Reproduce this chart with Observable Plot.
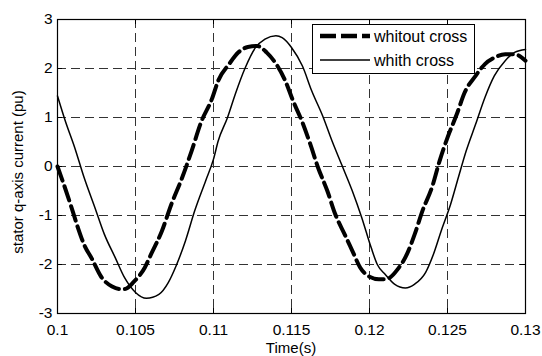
<!DOCTYPE html>
<html><head><meta charset="utf-8">
<script src="https://cdn.jsdelivr.net/npm/d3@7"></script>
<script src="https://cdn.jsdelivr.net/npm/@observablehq/plot@0.6"></script>
<style>body{margin:0;background:#fff}</style>
</head><body><div id="chart"></div>
<script>
// ---- data ----
const seriesNames = ["whitout cross", "whith cross"];
const timeWithout = [0.1000,0.1004,0.1009,0.1013,0.1017,0.1022,0.1028,0.1035,0.1040,0.1043,0.1049,0.1056,0.1060,0.1067,0.1073,0.1080,0.1086,0.1092,0.1099,0.1103,0.1110,0.1116,0.1122,0.1128,0.1134,0.1141,0.1146,0.1151,0.1157,0.1162,0.1167,0.1173,0.1178,0.1184,0.1189,0.1194,0.1200,0.1206,0.1210,0.1213,0.1218,0.1224,0.1229,0.1234,0.1240,0.1245,0.1250,0.1256,0.1261,0.1268,0.1274,0.1280,0.1287,0.1293,0.1300];
const valuesWithout = [0.00,-0.36,-0.84,-1.24,-1.59,-1.88,-2.25,-2.45,-2.50,-2.50,-2.35,-2.06,-1.79,-1.31,-0.77,-0.22,0.32,0.90,1.38,1.75,2.09,2.33,2.44,2.46,2.33,2.05,1.75,1.34,0.90,0.46,-0.02,-0.50,-0.97,-1.38,-1.72,-2.06,-2.25,-2.30,-2.30,-2.27,-2.10,-1.79,-1.38,-0.90,-0.43,0.12,0.59,1.07,1.51,1.85,2.09,2.22,2.29,2.29,2.16];
const timeWith = [0.1000,0.1005,0.1011,0.1017,0.1024,0.1030,0.1037,0.1043,0.1050,0.1057,0.1065,0.1071,0.1076,0.1082,0.1088,0.1095,0.1100,0.1103,0.1109,0.1114,0.1120,0.1127,0.1133,0.1140,0.1144,0.1150,0.1157,0.1163,0.1170,0.1176,0.1182,0.1189,0.1195,0.1201,0.1205,0.1210,0.1216,0.1223,0.1229,0.1236,0.1241,0.1246,0.1252,0.1257,0.1262,0.1268,0.1274,0.1280,0.1287,0.1293,0.1300];
const valuesWith = [1.44,0.93,0.39,-0.22,-0.84,-1.38,-1.86,-2.27,-2.57,-2.69,-2.61,-2.37,-2.03,-1.52,-0.90,-0.29,0.15,0.52,1.00,1.48,1.99,2.43,2.60,2.67,2.63,2.43,2.05,1.54,1.03,0.52,0.05,-0.50,-1.04,-1.65,-2.00,-2.20,-2.40,-2.48,-2.40,-2.16,-1.79,-1.31,-0.77,-0.22,0.32,0.86,1.41,1.85,2.16,2.33,2.39];
const xTicks = [0.1, 0.105, 0.11, 0.115, 0.12, 0.125, 0.13];
const xTickLabels = ["0.1", "0.105", "0.11", "0.115", "0.12", "0.125", "0.13"];
const yTicks = [-3, -2, -1, 0, 1, 2, 3];
const yTickLabels = ["-3", "-2", "-1", "0", "1", "2", "3"];
const xLabel = "Time(s)";
const yLabel = "stator q-axis current (pu)";

// ---- layout ----
const W = 542, H = 356, mL = 57, mR = 17, mT = 19, mB = 43;
const plotW = W - mL - mR, plotH = H - mT - mB, tickLen = 5;
const font = "'Liberation Sans', Arial, Helvetica, sans-serif";

const without = timeWithout.map((t, i) => ({t, v: valuesWithout[i], s: seriesNames[0]}));
const withc = timeWith.map((t, i) => ({t, v: valuesWith[i], s: seriesNames[1]}));
const gridStyle = {stroke: "#333", strokeOpacity: 1, strokeWidth: 1, strokeDasharray: "9,5"};

const plot = Plot.plot({
  width: W, height: H,
  marginLeft: mL, marginRight: mR, marginTop: mT, marginBottom: mB,
  style: {fontFamily: font, fontSize: "15.5px", color: "#000", background: "#fff", overflow: "visible"},
  x: {domain: [0.1, 0.13]},
  y: {domain: [-3, 3]},
  marks: [
    Plot.gridX(xTicks, gridStyle),
    Plot.gridY(yTicks, gridStyle),
    Plot.line(without, {x: "t", y: "v", stroke: "#000", strokeWidth: 4, strokeDasharray: "15,6", curve: "monotone-x"}),
    Plot.line(withc, {x: "t", y: "v", stroke: "#000", strokeWidth: 1.5, curve: "monotone-x"}),
    Plot.tickX(xTicks, {x: d => d, stroke: "#000", insetTop: plotH - tickLen}),
    Plot.tickX(xTicks, {x: d => d, stroke: "#000", insetBottom: plotH - tickLen}),
    Plot.tickY(yTicks, {y: d => d, stroke: "#000", insetLeft: plotW - tickLen}),
    Plot.tickY(yTicks, {y: d => d, stroke: "#000", insetRight: plotW - tickLen}),
    Plot.axisX(xTicks, {tickSize: 0, tickPadding: 10, tickFormat: d => xTickLabels[xTicks.indexOf(d)], label: null}),
    Plot.axisY(yTicks, {tickSize: 0, tickPadding: 5, tickFormat: d => yTickLabels[yTicks.indexOf(d)], label: null}),
    Plot.frame({stroke: "#000", strokeWidth: 1.2})
  ]
});

const svg = d3.select(plot);
// axis labels
svg.append("text").attr("x", mL + plotW / 2).attr("y", 353)
  .attr("text-anchor", "middle").attr("font-family", font).attr("font-size", 15).attr("fill", "#000").text(xLabel);
svg.append("text").attr("transform", "translate(23,172) rotate(-90)")
  .attr("text-anchor", "middle").attr("font-family", font).attr("font-size", 15).attr("fill", "#000").text(yLabel);

// legend
const lg = svg.append("g");
lg.append("rect").attr("x", 312.5).attr("y", 24.5).attr("width", 162).attr("height", 49)
  .attr("fill", "#fff").attr("stroke", "#000").attr("stroke-width", 1);
const rows = [{y: 36, w: 4.5, dash: "16,5"}, {y: 60, w: 1.5, dash: null}];
rows.forEach((r, i) => {
  const ln = lg.append("line").attr("x1", 320).attr("x2", 370).attr("y1", r.y).attr("y2", r.y)
    .attr("stroke", "#000").attr("stroke-width", r.w);
  if (r.dash) ln.attr("stroke-dasharray", r.dash);
  lg.append("text").attr("x", 374).attr("y", r.y + 6).attr("text-anchor", "start")
    .attr("font-family", font).attr("font-size", 16).attr("fill", "#000").text(seriesNames[i]);
});

document.getElementById("chart").appendChild(plot);
</script>
</body></html>
